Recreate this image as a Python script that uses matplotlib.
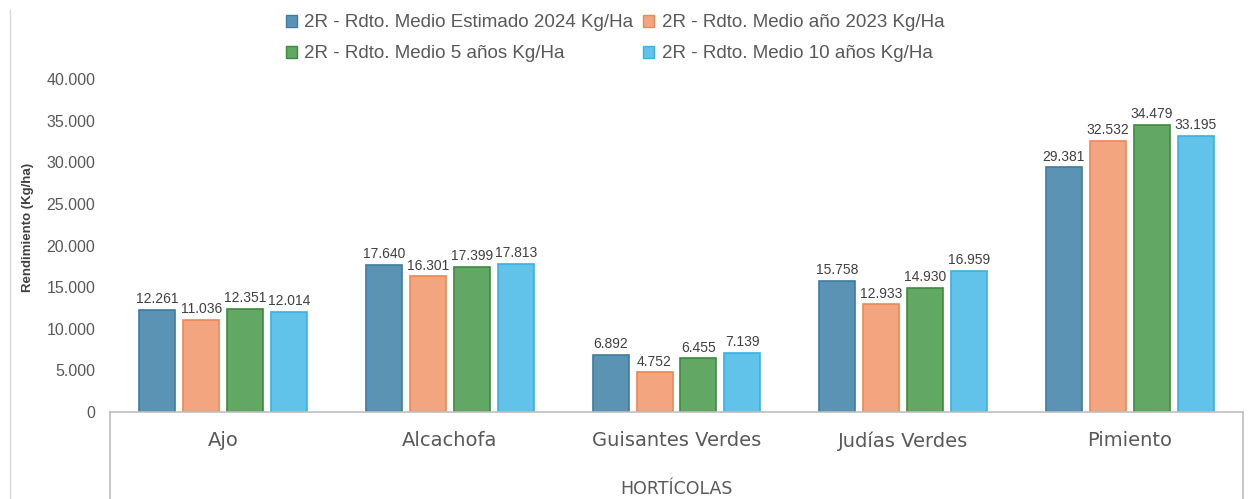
import matplotlib.pyplot as plt
from matplotlib.lines import Line2D
from matplotlib.patches import Patch
import numpy as np

# Datos del gráfico
categorias = ["Ajo", "Alcachofa", "Guisantes Verdes", "Judías Verdes", "Pimiento"]
series = [
    "2R - Rdto. Medio Estimado 2024 Kg/Ha",
    "2R - Rdto. Medio año 2023 Kg/Ha",
    "2R - Rdto. Medio 5 años Kg/Ha",
    "2R - Rdto. Medio 10 años Kg/Ha",
]
rdto_2024 = [12261, 17640, 6892, 15758, 29381]
rdto_2023 = [11036, 16301, 4752, 12933, 32532]
rdto_5 = [12351, 17399, 6455, 14930, 34479]
rdto_10 = [12014, 17813, 7139, 16959, 33195]
valores = [rdto_2024, rdto_2023, rdto_5, rdto_10]

colores = ["#5B93B5", "#F2A57E", "#63A764", "#62C3EA"]
bordes = ["#3E7BA0", "#EC8756", "#3D8B3E", "#38B1E3"]

gris = "#595959"
fuente = ["Liberation Sans", "DejaVu Sans"]


def miles(v):
    return f"{v:,.0f}".replace(",", ".")


fig = plt.figure(figsize=(12.5, 4.99), dpi=100)
ax = fig.add_axes([0.088, 0.1743, 0.9064, 0.6674])

x = np.arange(len(categorias))
paso = 0.194
ancho = 0.159
for i, vals in enumerate(valores):
    pos = x + (i - 1.5) * paso
    barras = ax.bar(pos, vals, ancho, color=colores[i], edgecolor=bordes[i], linewidth=1.2)
    for b, v in zip(barras, vals):
        ax.text(b.get_x() + b.get_width() / 2, v + 450, miles(v),
                ha="center", va="bottom", fontsize=10, color="#404040", family=fuente)

ax.set_xlim(-0.5, len(categorias) - 0.5)
ax.set_ylim(0, 40000)
ax.set_yticks(range(0, 40001, 5000))
ax.set_yticklabels([miles(v) for v in range(0, 40001, 5000)], family=fuente)
ax.tick_params(axis="y", length=0, pad=10.5, labelsize=11.5, labelcolor=gris)

ax.set_xticks(x)
ax.set_xticklabels(categorias)
ax.tick_params(axis="x", length=0, pad=14, labelsize=14, labelcolor=gris)
ax.set_xlabel("HORTÍCOLAS", fontsize=12.5, color=gris)
ax.xaxis.set_label_coords(0.5, -0.205)
ax.set_ylabel("Rendimiento (Kg/ha)", fontsize=9.5, fontweight="bold", color="#404040",
              family=fuente)
ax.yaxis.set_label_coords(-0.067, 0.553)

for s in ["top", "right", "left"]:
    ax.spines[s].set_visible(False)
ax.spines["bottom"].set_color("#BFBFBF")
ax.spines["bottom"].set_linewidth(1.2)

# Caja del eje de categorías y borde del gráfico
x0, x1 = 0.088, 0.088 + 0.9064
for xx in (x0, x1):
    fig.add_artist(Line2D([xx, xx], [0, 0.1743], transform=fig.transFigure,
                          color="#BFBFBF", linewidth=1.2))
fig.add_artist(Line2D([0.008, 0.008], [0, 0.98], transform=fig.transFigure,
                      color="#D9D9D9", linewidth=1))

# Leyenda por filas: 2024, 2023 / 5 años, 10 años
orden = [0, 2, 1, 3]
handles = [Patch(facecolor=colores[i], edgecolor=bordes[i]) for i in orden]
fig.legend(handles, [series[i] for i in orden], loc="upper center",
           bbox_to_anchor=(0.492, 1.005), ncol=2, frameon=False,
           prop={"family": fuente, "size": 13.5}, labelcolor=gris,
           handlelength=0.6, handleheight=0.6, handletextpad=0.4,
           columnspacing=0.5, labelspacing=0.75)

fig.savefig("out.png", dpi=100)
